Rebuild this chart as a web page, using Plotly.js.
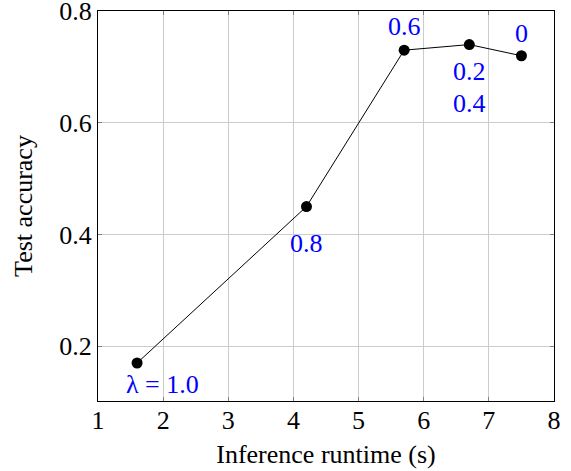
<!DOCTYPE html>
<html><head><meta charset="utf-8">
<script src="https://cdn.plot.ly/plotly-3.0.1.min.js"></script>
<style>html,body{margin:0;padding:0;background:#fff}#plot{width:571px;height:471px}</style>
</head><body><div id="plot"></div>
<script>
const runtime = [1.6, 4.2, 5.7, 6.7, 7.5];
const accuracy = [0.17, 0.45, 0.73, 0.74, 0.72];
const lambdaLabels = ["λ = 1.0", "0.8", "0.6", "0.2", "0"];
const extraLabel = "0.4";
const xTicks = [1, 2, 3, 4, 5, 6, 7, 8];
const yTicks = [0.2, 0.4, 0.6, 0.8];

const font = "Liberation Serif, Times New Roman, serif";
const fs = 26;
const labelShift = [[25, -21], [0, -37], [0, 24], [0, -27], [0, 22]];

const annotations = lambdaLabels.map((t, i) => ({
  x: runtime[i], y: accuracy[i], xref: 'x', yref: 'y', text: t, showarrow: false,
  xshift: labelShift[i][0], yshift: labelShift[i][1],
  font: {family: font, size: fs, color: '#0000ff'}
}));
annotations.push({
  x: runtime[3], y: accuracy[3], xref: 'x', yref: 'y', text: extraLabel, showarrow: false,
  xshift: 0, yshift: -59, font: {family: font, size: fs, color: '#0000ff'}
});

Plotly.newPlot('plot', [{
  x: runtime, y: accuracy, type: 'scatter', mode: 'lines+markers',
  line: {color: '#000', width: 1},
  marker: {color: '#000', size: 11},
  showlegend: false, cliponaxis: false
}], {
  width: 571, height: 471,
  margin: {l: 98, r: 17, t: 11, b: 70},
  paper_bgcolor: '#fff', plot_bgcolor: '#fff',
  font: {family: font, size: fs, color: '#000'},
  xaxis: {
    range: [1, 8], tickvals: xTicks, ticktext: xTicks.map(String),
    showgrid: true, gridcolor: '#cccccc', gridwidth: 1,
    showline: true, linecolor: '#000', linewidth: 1, mirror: 'ticks',
    ticks: 'inside', ticklen: 4, tickcolor: '#808080',
    zeroline: false, ticklabeloverflow: 'allow', ticklabelstandoff: -4,
    title: {text: 'Inference runtime (s)', font: {family: font, size: fs}, standoff: 10},
    tickfont: {family: font, size: fs}
  },
  yaxis: {
    range: [0.102, 0.8001], tickvals: yTicks, ticktext: yTicks.map(v => v.toFixed(1)),
    showgrid: true, gridcolor: '#cccccc', gridwidth: 1,
    showline: true, linecolor: '#000', linewidth: 1, mirror: 'ticks',
    ticks: 'inside', ticklen: 4, tickcolor: '#808080',
    zeroline: false, ticklabeloverflow: 'allow',
    title: {text: 'Test accuracy', font: {family: font, size: fs}, standoff: 19},
    tickfont: {family: font, size: fs}
  },
  annotations: annotations
}, {displayModeBar: false, staticPlot: true});
</script></body></html>
